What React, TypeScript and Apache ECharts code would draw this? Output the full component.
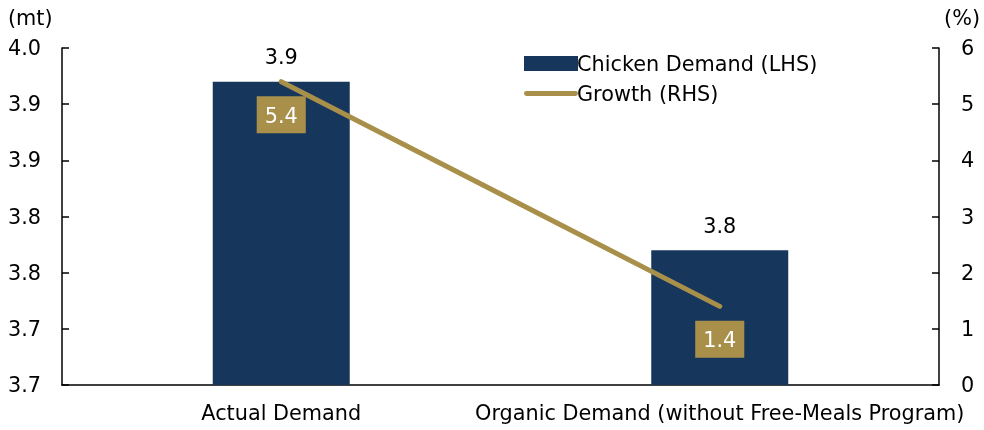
import React, { useEffect, useRef } from "react";
import * as echarts from "echarts";

const categories = ["Actual Demand", "Organic Demand (without Free-Meals Program)"];
const demand = [3.92, 3.77];
const growth = [5.4, 1.4];
const leftTickLabels = ["3.7", "3.7", "3.8", "3.8", "3.9", "3.9", "4.0"];
const rightTickLabels = ["0", "1", "2", "3", "4", "5", "6"];

const NAVY = "#17365C";
const GOLD = "#A8904B";
const FONT = "DejaVu Sans";
const FS = 20.8;

export default function App() {
  const ref = useRef<HTMLDivElement>(null);
  useEffect(() => {
    const chart = echarts.init(ref.current!, null, { renderer: "svg" });
    chart.setOption({
      animation: false,
      textStyle: { fontFamily: FONT, color: "#000" },
      grid: { left: 62, right: 45, top: 48, bottom: 45 },
      legend: {
        orient: "vertical",
        left: 519,
        top: 48,
        itemWidth: 54,
        itemHeight: 15,
        itemGap: 9,
        textStyle: { fontFamily: FONT, fontSize: FS, color: "#000", padding: [0, 0, 0, -6] },
        data: [
          { name: "Chicken Demand (LHS)", icon: "rect" },
          { name: "Growth (RHS)", icon: "path://M2.5,0 L52.5,0 A2.5,2.5 0 0 1 52.5,5 L2.5,5 A2.5,2.5 0 0 1 2.5,0 Z" },
        ],
      },
      graphic: [
        { type: "text", left: 8, top: 7, style: { text: "(mt)", fontFamily: FONT, fontSize: FS, fill: "#000" } },
        { type: "text", right: 4, top: 7, style: { text: "(%)", fontFamily: FONT, fontSize: FS, fill: "#000" } },
      ],
      xAxis: {
        type: "category",
        data: categories,
        axisLine: { lineStyle: { color: "#000", width: 1.5 } },
        axisTick: { show: false },
        axisLabel: { fontFamily: FONT, fontSize: FS, color: "#000", margin: 17, interval: 0 },
      },
      yAxis: [
        {
          type: "value",
          min: 3.65,
          max: 3.95,
          interval: 0.05,
          splitLine: { show: false },
          axisLine: { show: true, lineStyle: { color: "#000", width: 1.5 } },
          axisTick: { show: true, inside: true, length: 7, lineStyle: { color: "#000", width: 1.5 } },
          axisLabel: {
            fontFamily: FONT,
            fontSize: FS,
            color: "#000",
            margin: 21,
            formatter: (_v: number, i: number) => leftTickLabels[i] ?? "",
          },
        },
        {
          type: "value",
          min: 0,
          max: 6,
          interval: 1,
          position: "right",
          splitLine: { show: false },
          axisLine: { show: true, lineStyle: { color: "#000", width: 1.5 } },
          axisTick: { show: true, inside: true, length: 7, lineStyle: { color: "#000", width: 1.5 } },
          axisLabel: {
            fontFamily: FONT,
            fontSize: FS,
            color: "#000",
            margin: 22,
            formatter: (_v: number, i: number) => rightTickLabels[i] ?? "",
          },
        },
      ],
      series: [
        {
          name: "Chicken Demand (LHS)",
          type: "bar",
          yAxisIndex: 0,
          data: demand,
          barWidth: 137,
          itemStyle: { color: NAVY },
          label: {
            show: true,
            position: "top",
            distance: 14,
            fontFamily: FONT,
            fontSize: FS,
            color: "#000",
            formatter: (p: any) => (Math.round(p.value * 10) / 10).toFixed(1),
          },
        },
        {
          name: "Growth (RHS)",
          type: "line",
          yAxisIndex: 1,
          data: growth,
          symbol: "circle",
          symbolSize: 1,
          itemStyle: { color: GOLD },
          lineStyle: { color: GOLD, width: 5, cap: "round" },
          label: {
            show: true,
            position: "bottom",
            distance: 14,
            fontFamily: FONT,
            fontSize: FS,
            color: "#fff",
            backgroundColor: GOLD,
            padding: [9, 8, 7, 8],
            formatter: (p: any) => p.value.toFixed(1),
          },
        },
      ],
    });
    return () => chart.dispose();
  }, []);
  return (
    <div
      ref={ref}
      style={{ position: "fixed", left: 0, top: 0, width: 984, height: 430 }}
    />
  );
}
